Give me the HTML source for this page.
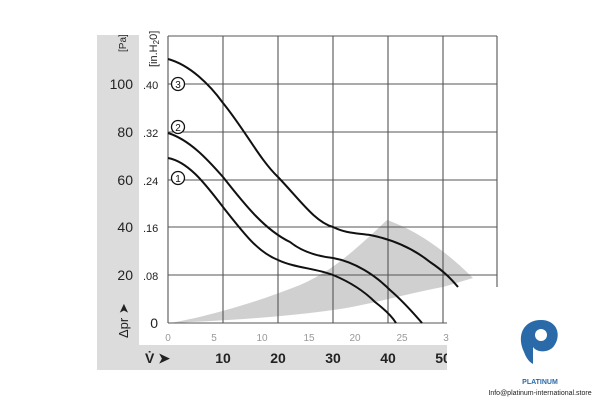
<!DOCTYPE html>
<html><head><style>body{margin:0;background:#fff}svg{display:block}text{font-family:"Liberation Sans",sans-serif}</style></head><body>
<svg width="600" height="400" viewBox="0 0 600 400">
<rect x="97" y="35" width="42" height="335" fill="#dcdcdc"/>
<rect x="97" y="345" width="350" height="25" fill="#dcdcdc"/>
<path d="M170,323 C200,318 250,305 300,285 C330,272 350,255 387,220 C410,228 440,245 473,278 L443,287 C400,295 370,305 333,310 C290,316 240,320 170,323Z" fill="#d0d0d0"/>
<g stroke="#555" stroke-width="1.1" fill="none">
<path d="M168,36V323M223,36V323M278,36V323M333,36V323M388,36V323M443,36V323M497,36V287"/>
<path d="M168,36H497M168,84H497M168,132H497M168,180H497M168,227H497M168,275H497M168,323H447"/>
</g>
<rect x="447" y="288" width="60" height="60" fill="#fff"/>
<g stroke="#111" stroke-width="2" fill="none">
<path d="M168,59 C190,65 210,85 223,103 C245,130 260,160 278,177 C300,200 315,222 333,227 C345,233 355,233 370,235 C395,240 415,250 430,262 C445,272 452,280 458,287"/>
<path d="M168,133 C190,140 208,160 223,177 C245,205 265,230 290,242 C300,250 315,256 333,258 C355,262 375,275 390,290 C405,303 415,315 422,323"/>
<path d="M168,158 C190,162 208,188 223,207 C245,235 258,252 278,260 C295,268 315,268 333,275 C350,282 365,292 375,302 C388,312 393,318 396,323"/>
</g>
<g fill="#fff" stroke="#111" stroke-width="1.3"><circle cx="178" cy="84" r="6.5"/><circle cx="178" cy="127" r="6.5"/><circle cx="178" cy="178" r="6.5"/></g>
<g font-size="10" text-anchor="middle" fill="#111"><text x="178" y="88">3</text><text x="178" y="131">2</text><text x="178" y="182">1</text></g>
<g font-size="14" text-anchor="end" fill="#222"><text x="133" y="89">100</text><text x="133" y="137">80</text><text x="133" y="185">60</text><text x="133" y="232">40</text><text x="133" y="280">20</text><text x="158" y="328">0</text></g>
<g font-size="11" fill="#222"><text x="143" y="89">.40</text><text x="143" y="137">.32</text><text x="143" y="185">.24</text><text x="143" y="232">.16</text><text x="143" y="280">.08</text></g>
<text transform="translate(126,52) rotate(-90)" font-size="10" fill="#222">[Pa]</text>
<text transform="translate(157,67) rotate(-90)" font-size="11" fill="#222">[in.H<tspan font-size="8" dy="2">2</tspan><tspan dy="-2">0]</tspan></text>
<text transform="translate(128,338) rotate(-90)" font-size="13" fill="#222">Δpr ➤</text>
<g font-size="10" fill="#999" text-anchor="middle"><text x="168" y="341">0</text><text x="214" y="341">5</text><text x="262" y="341">10</text><text x="309" y="341">15</text><text x="355" y="341">20</text><text x="402" y="341">25</text><text x="446" y="341">3</text></g>
<text x="145" y="363" font-size="14" font-weight="bold" fill="#222">V̇ ➤</text>
<g font-size="14" font-weight="bold" fill="#222" text-anchor="middle"><text x="223" y="363">10</text><text x="278" y="363">20</text><text x="333" y="363">30</text><text x="388" y="363">40</text><text x="443" y="363">50</text></g>
<rect x="447" y="345" width="12" height="25" fill="#fff"/>
<path d="M524,352 C516,335 524,320 541,320 C557,320 562,335 554,346 C549,353 537,353 533,347 L533,364 C528,361 526,357 524,352Z" fill="#2a6aa8"/>
<circle cx="541" cy="335" r="6" fill="#fff"/>
<text x="540" y="384" font-size="7" font-weight="bold" fill="#2a6aa8" text-anchor="middle">PLATINUM</text>
<text x="540" y="395" font-size="7" fill="#222" text-anchor="middle">Info@platinum-international.store</text>
</svg>
</body></html>
